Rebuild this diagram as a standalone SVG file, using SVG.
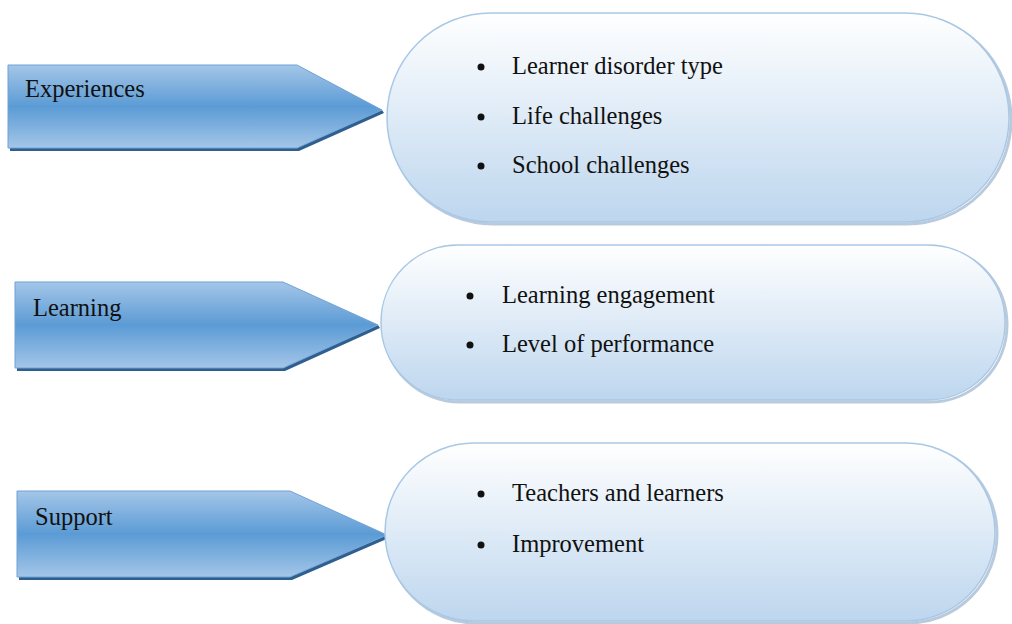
<svg xmlns="http://www.w3.org/2000/svg" width="1012" height="624" viewBox="0 0 1012 624">
<style>
.lbl{font-family:"Liberation Serif","Times New Roman",serif;font-size:24.5px;fill:#111}
.itm{font-family:"Liberation Serif","Times New Roman",serif;font-size:24.5px;fill:#111}
.arrow{fill:url(#ag);stroke:#6fa2d4;stroke-width:1}
.pill{fill:url(#pg);stroke:#a9c8e6;stroke-width:1.5}
.shadowA{fill:#2f5f8f}
.shadowP{fill:none;stroke:#7f9fbf;stroke-width:3;opacity:0.55}
</style>
<defs>
<linearGradient id="ag" x1="0" y1="0" x2="0" y2="1">
<stop offset="0" stop-color="#a4c6e8"/>
<stop offset="0.5" stop-color="#5b9bd5"/>
<stop offset="1" stop-color="#a4c6e8"/>
</linearGradient>
<linearGradient id="pg" x1="0" y1="0" x2="0" y2="1">
<stop offset="0" stop-color="#ffffff"/>
<stop offset="1" stop-color="#bdd6ee"/>
</linearGradient>
</defs>
<g id="connectors"></g>
<g id="node-experiences">
<path class="shadowA" d="M10,68 L10,151 L299,151 L384,113 L382,110 L297,148 L10,148 Z"/>
<path class="arrow" d="M8,65 L297,65 L382,110 L297,148 L8,148 Z"/>
<text class="lbl" x="25" y="97">Experiences</text>
</g>
<g id="node-learning">
<path class="shadowA" d="M17,285 L17,371 L285,371 L380,328 L378,325 L283,368 L17,368 Z"/>
<path class="arrow" d="M15,282 L283,282 L378,325 L283,368 L15,368 Z"/>
<text class="lbl" x="33" y="316">Learning</text>
</g>
<g id="node-support">
<path class="shadowA" d="M19,494 L19,580 L292,580 L389,538 L387,535 L290,577 L19,577 Z"/>
<path class="arrow" d="M17,491 L290,491 L387,535 L290,577 L17,577 Z"/>
<text class="lbl" x="35" y="525">Support</text>
</g>
<g id="node-experiences-items">
<rect class="shadowP" x="389" y="15" width="622" height="209" rx="104"/>
<rect class="pill" x="387" y="13" width="622" height="209" rx="104"/>
<circle cx="481" cy="67" r="3.5" fill="#111"/>
<text class="itm" x="512" y="74">Learner disorder type</text>
<circle cx="481" cy="117" r="3.5" fill="#111"/>
<text class="itm" x="512" y="124">Life challenges</text>
<circle cx="481" cy="166" r="3.5" fill="#111"/>
<text class="itm" x="512" y="173">School challenges</text>
</g>
<g id="node-learning-items">
<rect class="shadowP" x="383" y="247" width="624" height="155" rx="77"/>
<rect class="pill" x="381" y="245" width="624" height="155" rx="77"/>
<circle cx="470" cy="296" r="3.5" fill="#111"/>
<text class="itm" x="502" y="303">Learning engagement</text>
<circle cx="470" cy="345" r="3.5" fill="#111"/>
<text class="itm" x="502" y="352">Level of performance</text>
</g>
<g id="node-support-items">
<rect class="shadowP" x="387" y="445" width="610" height="178" rx="89"/>
<rect class="pill" x="385" y="443" width="610" height="178" rx="89"/>
<circle cx="481" cy="494" r="3.5" fill="#111"/>
<text class="itm" x="512" y="501">Teachers and learners</text>
<circle cx="481" cy="545" r="3.5" fill="#111"/>
<text class="itm" x="512" y="552">Improvement</text>
</g>
</svg>
